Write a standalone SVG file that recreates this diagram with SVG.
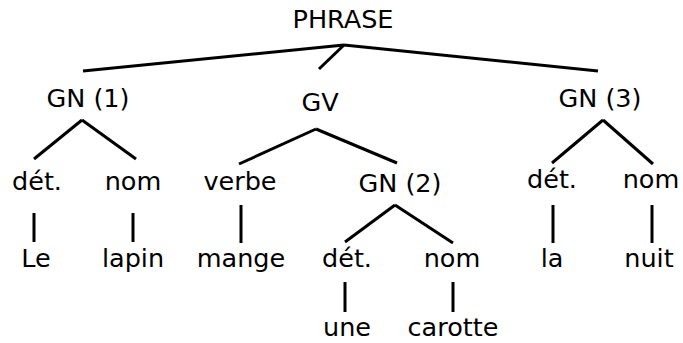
<svg xmlns="http://www.w3.org/2000/svg" width="683" height="343" viewBox="0 0 683 343">
<style>
text{font-family:"DejaVu Sans","Open Sans",sans-serif;font-size:25.5px;fill:#000;text-anchor:middle}
.c line{stroke:#000;stroke-width:3;stroke-linecap:butt}
</style>
<rect width="683" height="343" fill="#fff"/>
<g class="c" id="connectors">
<line x1="344" y1="45" x2="83" y2="71"/>
<line x1="344" y1="45" x2="319" y2="69"/>
<line x1="344" y1="45" x2="598" y2="71"/>
<line x1="82" y1="120" x2="34" y2="159"/>
<line x1="82" y1="120" x2="136" y2="159"/>
<line x1="316" y1="129" x2="239" y2="164"/>
<line x1="316" y1="129" x2="397" y2="163"/>
<line x1="603" y1="120" x2="552" y2="163"/>
<line x1="603" y1="120" x2="653" y2="164"/>
<line x1="395" y1="205" x2="345" y2="242"/>
<line x1="395" y1="205" x2="453" y2="243"/>
<line x1="34" y1="213" x2="34" y2="242"/>
<line x1="133" y1="213" x2="133" y2="242"/>
<line x1="241" y1="205" x2="241" y2="243"/>
<line x1="553" y1="205" x2="553" y2="243"/>
<line x1="652" y1="205" x2="652" y2="243"/>
<line x1="345" y1="282" x2="345" y2="312"/>
<line x1="453" y1="282" x2="453" y2="312"/>
</g>
<g id="phrase"><text x="343" y="28">PHRASE</text></g>
<g id="gn1"><text x="88" y="107">GN (1)</text></g>
<g id="gv"><text x="320" y="111">GV</text></g>
<g id="gn3"><text x="600" y="107">GN (3)</text></g>
<g id="det1"><text x="37" y="190">dét.</text></g>
<g id="nom1"><text x="133" y="190">nom</text></g>
<g id="verbe"><text x="240" y="190">verbe</text></g>
<g id="gn2"><text x="400" y="192">GN (2)</text></g>
<g id="det3"><text x="552" y="188">dét.</text></g>
<g id="nom3"><text x="651" y="188">nom</text></g>
<g id="le"><text x="36" y="267">Le</text></g>
<g id="lapin"><text x="133" y="267">lapin</text></g>
<g id="mange"><text x="241" y="267">mange</text></g>
<g id="det2"><text x="347" y="267">dét.</text></g>
<g id="nom2"><text x="452" y="267">nom</text></g>
<g id="la"><text x="552" y="267">la</text></g>
<g id="nuit"><text x="649" y="267">nuit</text></g>
<g id="une"><text x="347" y="336">une</text></g>
<g id="carotte"><text x="453" y="336">carotte</text></g>
</svg>
